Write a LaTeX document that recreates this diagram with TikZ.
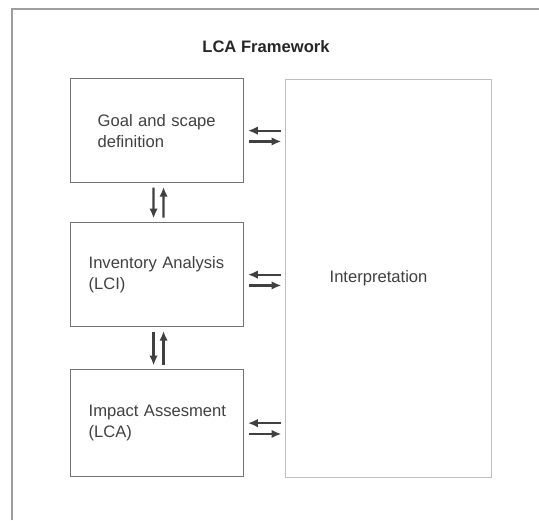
\documentclass[tikz,border=0pt]{standalone}
\usepackage{fontspec}
\setmainfont{Liberation Sans}
\usetikzlibrary{arrows.meta}

\definecolor{framegray}{gray}{0.62}
\definecolor{boxgray}{gray}{0.45}
\definecolor{interpgray}{gray}{0.75}
\definecolor{inkgray}{gray}{0.25}

\tikzset{
  stage/.style={draw=boxgray,line width=0.9pt,rectangle,anchor=north west,
    minimum width=4.325cm,minimum height=2.6cm,inner xsep=0.45cm,
    text width=3.425cm,align=left,text=inkgray},
  flow/.style={draw=inkgray,line width=1.6pt,-{Latex[length=7pt,width=6pt]},
    shorten <=0.11cm,shorten >=0.09cm}
}

\begin{document}
\begin{tikzpicture}[x=0.025cm,y=-0.025cm,
    every node/.style={font=\fontsize{11.8}{14.9}\selectfont}]
        \useasboundingbox (0,0) rectangle (539,520);

        % outer frame, cut off at the right and bottom
        \draw[framegray,line width=1pt] (12,520) -- (12,9) -- (539,9);

        \node[font=\fontsize{11.8}{14.9}\selectfont\bfseries,text=black!85] (title) at (266,47) {LCA Framework};

        % the three stages on the left
        \node[stage,inner xsep=0.675cm,text width=2.975cm] (goal) at (70,78) {Goal and scape\\definition};
        \node[stage] (inv) at (70,222) {Inventory Analysis\\(LCI)};
        \node[stage,minimum height=2.675cm] (impact) at (70,369) {\mbox{Impact Assesment}\\(LCA)};

        % interpretation runs alongside all of them
        \node[stage,draw=interpgray,minimum width=5.15cm,minimum height=9.95cm,
              inner xsep=1.1cm,text width=2.95cm] (interp) at (285,79) {Interpretation};

        % stage <-> stage
        \foreach \a/\b in {goal/inv,inv/impact} {
                \draw[flow] ([xshift=-0.09cm]\a.south) -- ([xshift=-0.09cm]\b.north);
                \draw[flow] ([xshift=0.16cm]\b.north) -- ([xshift=0.16cm]\a.south);
        }

        % stage <-> interpretation
        \foreach \s in {goal,inv,impact} {
                \draw[flow] (interp.west |- \s.east) -- (\s.east);
                \draw[flow] ([yshift=-0.27cm]\s.east) -- ([yshift=-0.27cm]interp.west |- \s.east);
        }
\end{tikzpicture}
\end{document}
